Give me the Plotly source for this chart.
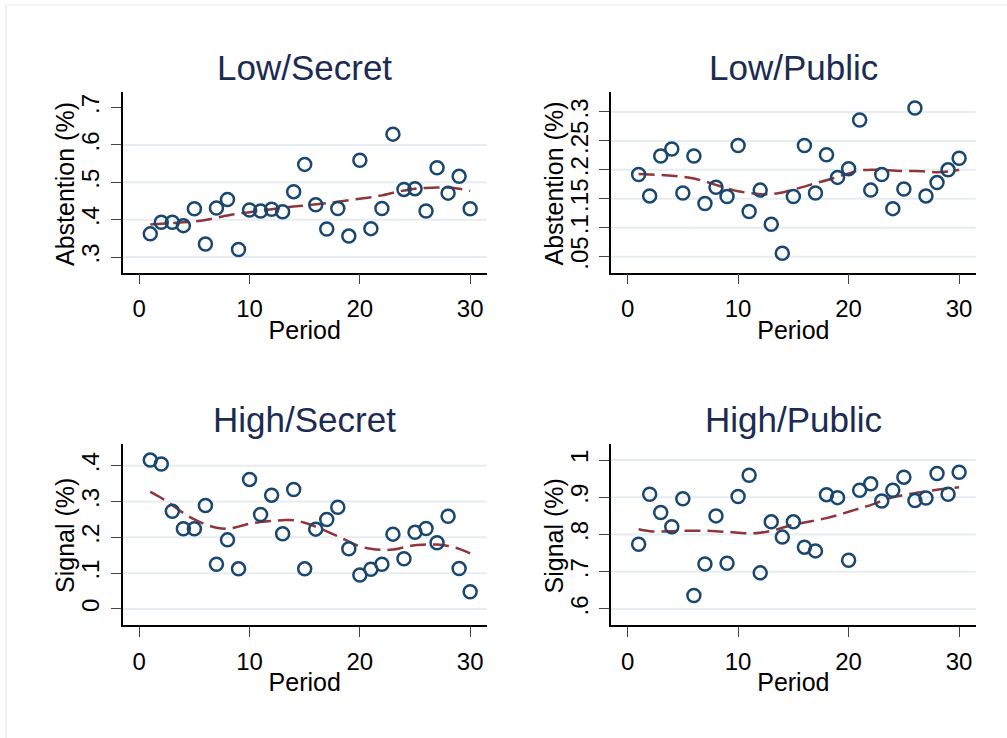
import plotly.graph_objects as go

period = list(range(1, 31))

low_secret = [0.362, 0.393, 0.393, 0.384, 0.429, 0.335, 0.431, 0.454, 0.320, 0.426,
              0.423, 0.428, 0.421, 0.475, 0.548, 0.440, 0.375, 0.430, 0.356, 0.559,
              0.376, 0.430, 0.629, 0.481, 0.483, 0.423, 0.539, 0.471, 0.516, 0.429]
low_secret_fit = [0.387, 0.389, 0.391, 0.393, 0.395, 0.399, 0.405, 0.411, 0.416, 0.420,
                  0.424, 0.428, 0.432, 0.435, 0.438, 0.441, 0.444, 0.448, 0.452, 0.456,
                  0.460, 0.465, 0.472, 0.478, 0.483, 0.485, 0.486, 0.486, 0.483, 0.477]

low_public = [0.192, 0.155, 0.224, 0.236, 0.160, 0.224, 0.142, 0.170, 0.154, 0.242,
              0.128, 0.165, 0.106, 0.056, 0.154, 0.242, 0.160, 0.226, 0.187, 0.202,
              0.286, 0.165, 0.192, 0.133, 0.167, 0.307, 0.155, 0.178, 0.200, 0.220]
low_public_fit = [0.193, 0.192, 0.191, 0.190, 0.188, 0.185, 0.180, 0.174, 0.168, 0.163,
                  0.160, 0.158, 0.158, 0.161, 0.166, 0.171, 0.177, 0.182, 0.188, 0.194,
                  0.199, 0.200, 0.200, 0.199, 0.198, 0.198, 0.197, 0.196, 0.197, 0.200]

high_secret = [0.416, 0.405, 0.273, 0.224, 0.224, 0.289, 0.125, 0.193, 0.112, 0.362,
               0.264, 0.318, 0.210, 0.334, 0.112, 0.223, 0.250, 0.284, 0.168, 0.095,
               0.111, 0.125, 0.209, 0.140, 0.214, 0.225, 0.185, 0.259, 0.113, 0.048]
high_secret_fit = [0.327, 0.310, 0.290, 0.268, 0.250, 0.236, 0.227, 0.224, 0.230, 0.238,
                   0.243, 0.246, 0.248, 0.248, 0.241, 0.230, 0.217, 0.203, 0.188, 0.175,
                   0.168, 0.165, 0.166, 0.172, 0.178, 0.180, 0.180, 0.176, 0.168, 0.155]

high_public = [0.774, 0.908, 0.859, 0.821, 0.896, 0.636, 0.721, 0.850, 0.723, 0.902,
               0.959, 0.697, 0.834, 0.793, 0.834, 0.766, 0.756, 0.907, 0.899, 0.731,
               0.919, 0.936, 0.890, 0.919, 0.954, 0.891, 0.898, 0.964, 0.908, 0.967]
high_public_fit = [0.814, 0.809, 0.808, 0.809, 0.810, 0.810, 0.810, 0.809, 0.807, 0.805,
                   0.803, 0.805, 0.810, 0.818, 0.826, 0.832, 0.838, 0.844, 0.852, 0.861,
                   0.870, 0.879, 0.890, 0.900, 0.906, 0.911, 0.916, 0.920, 0.924, 0.927]

titles = ["Low/Secret", "Low/Public", "High/Secret", "High/Public"]
ytitles = ["Abstention (%)", "Abstention (%)", "Signal (%)", "Signal (%)"]
xticks = [0, 10, 20, 30]
yticks = [[0.3, 0.4, 0.5, 0.6, 0.7],
          [0.05, 0.1, 0.15, 0.2, 0.25, 0.3],
          [0, 0.1, 0.2, 0.3, 0.4],
          [0.6, 0.7, 0.8, 0.9, 1.0]]
ytick_text = [[".3", ".4", ".5", ".6", ".7"],
              [".05", ".1", ".15", ".2", ".25", ".3"],
              ["0", ".1", ".2", ".3", ".4"],
              [".6", ".7", ".8", ".9", "1"]]
grid_vals = [[0.3, 0.4, 0.5, 0.6],
             [0.05, 0.1, 0.15, 0.2, 0.25, 0.3],
             [0, 0.1, 0.2, 0.3, 0.4],
             [0.6, 0.7, 0.8, 0.9, 1.0]]
yranges = [[0.258, 0.741], [0.0223, 0.334], [-0.045, 0.461], [0.557, 1.043]]
series = [low_secret, low_public, high_secret, high_public]
fits = [low_secret_fit, low_public_fit, high_secret_fit, high_public_fit]

W, H = 1007, 738
xdoms = [[122.7 / W, 486.7 / W], [611 / W, 975.7 / W]]
ydoms = [[1 - 272.7 / H, 1 - 92.3 / H], [1 - 625 / H, 1 - 444 / H]]
title_y = [1 - 67 / H, 1 - 419 / H]
ytitle_x = [65 / W, 553.5 / W]

MARKER = "#1a476f"
FIT = "#90353b"
GRID = "#e5edf0"
TITLE = "#1c2b52"
FONT = "Liberation Sans, Arial, sans-serif"

fig = go.Figure()
layout = dict(width=W, height=H, margin=dict(l=0, r=0, t=0, b=0),
              paper_bgcolor="white", plot_bgcolor="white", showlegend=False,
              font=dict(family=FONT, size=24, color="black"))
shapes = []
annotations = []

for i in range(4):
    r, c = divmod(i, 2)
    sfx = "" if i == 0 else str(i + 1)
    xa, ya = "x" + sfx, "y" + sfx
    fig.add_trace(go.Scatter(x=period, y=fits[i], mode="lines", xaxis=xa, yaxis=ya,
                             line=dict(color=FIT, width=2.5, dash="16px,7px", shape="spline")))
    fig.add_trace(go.Scatter(x=period, y=series[i], mode="markers", xaxis=xa, yaxis=ya,
                             marker=dict(symbol="circle-open", size=13, color=MARKER,
                                         line=dict(width=2.5, color=MARKER))))
    layout["xaxis" + sfx] = dict(domain=xdoms[c], anchor=ya, range=[-1.5, 31.5],
                                 tickvals=xticks, ticks="outside", ticklen=10, tickwidth=1.3,
                                 tickcolor="#444", showline=True, linecolor="black", linewidth=1.5,
                                 showgrid=False, zeroline=False, ticklabelstandoff=4,
                                 tickfont=dict(size=24),
                                 title=dict(text="Period", standoff=0, font=dict(size=25)))
    layout["yaxis" + sfx] = dict(domain=ydoms[r], anchor=xa, range=yranges[i],
                                 tickvals=yticks[i], ticktext=ytick_text[i], tickangle=-90,
                                 ticks="outside", ticklen=10, tickwidth=1.3, tickcolor="#444",
                                 showline=True, linecolor="black", linewidth=1.5,
                                 showgrid=False, zeroline=False, ticklabelstandoff=2,
                                 tickfont=dict(size=24))
    for g in grid_vals[i]:
        shapes.append(dict(type="line", xref=xa + " domain", yref=ya, x0=0, x1=1, y0=g, y1=g,
                           line=dict(color=GRID, width=2), layer="below"))
    annotations.append(dict(text=titles[i], xref="paper", yref="paper",
                            x=sum(xdoms[c]) / 2, y=title_y[r], xanchor="center", yanchor="middle",
                            showarrow=False, font=dict(size=35, color=TITLE, family=FONT)))
    annotations.append(dict(text=ytitles[i], xref="paper", yref="paper", textangle=-90,
                            x=ytitle_x[c], y=sum(ydoms[r]) / 2 - 1.5 / H,
                            xanchor="center", yanchor="middle", showarrow=False,
                            font=dict(size=25, color="black", family=FONT)))

shapes.append(dict(type="rect", xref="paper", yref="paper", x0=6 / W, x1=1.02, y0=-0.02, y1=1 - 5 / H,
                   line=dict(color="#e4ecef", width=1.2), layer="below"))
layout["shapes"] = shapes
layout["annotations"] = annotations
fig.update_layout(**layout)
fig.write_html("out.html", config={"displayModeBar": False},
               post_script="document.body.style.margin='0';document.body.style.overflow='hidden';")
